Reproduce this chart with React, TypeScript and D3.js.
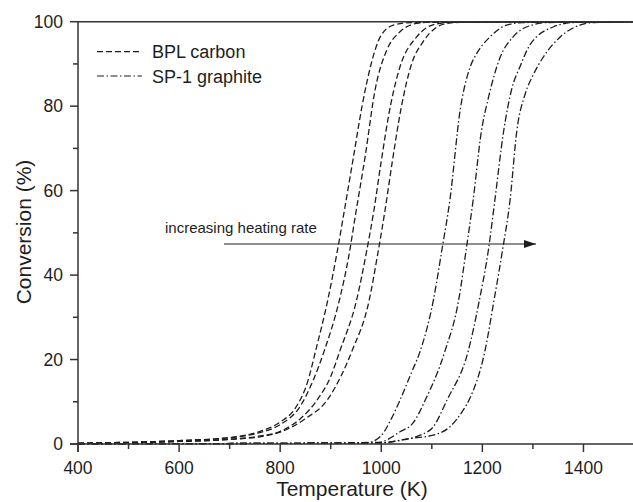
import React from "react";
import * as d3 from "d3";

// [temperature K, conversion %]
const bplRate1: [number, number][] = [
  [400, 0.2], [500, 0.4], [600, 0.8], [700, 1.5], [760, 3], [800, 5.2], [830, 8.5],
  [855, 15], [870, 22], [894, 34], [912, 45], [928, 56], [945, 68], [962, 80],
  [980, 90], [998, 96.4], [1024, 99.2], [1060, 99.8], [1500, 100],
];
const bplRate2: [number, number][] = [
  [400, 0.2], [500, 0.4], [600, 0.8], [700, 1.5], [760, 2.7], [800, 4.6], [840, 9],
  [865, 15], [887, 22], [917, 34], [935, 44], [950, 55], [968, 68], [988, 84],
  [1011, 93.3], [1037, 97.6], [1070, 99.6], [1100, 99.9], [1500, 100],
];
const bplRate3: [number, number][] = [
  [400, 0.1], [500, 0.3], [600, 0.6], [700, 1.1], [760, 1.9], [800, 3], [840, 6],
  [873, 10.4], [900, 16], [918, 22], [951, 34], [970, 45], [985, 55], [1000, 67],
  [1018, 80], [1037, 89.3], [1070, 96.4], [1110, 99.5], [1150, 99.9], [1500, 100],
];
const bplRate4: [number, number][] = [
  [400, 0.1], [500, 0.3], [600, 0.6], [700, 1.1], [760, 1.7], [800, 2.8], [850, 6],
  [893, 10.4], [920, 16], [942, 22], [976, 34], [993, 45], [1007, 55], [1022, 67],
  [1040, 80], [1060, 90], [1083, 95.3], [1130, 99.6], [1170, 99.9], [1500, 100],
];
const spRate1: [number, number][] = [
  [400, 0.05], [900, 0.2], [975, 0.4], [1000, 2], [1020, 6], [1037, 10.4],
  [1060, 17], [1077, 22], [1103, 34], [1120, 46], [1136, 58], [1156, 79],
  [1175, 89], [1189, 92.5], [1215, 96.4], [1248, 99.2], [1280, 99.8], [1500, 100],
];
const spRate2: [number, number][] = [
  [400, 0.05], [900, 0.2], [995, 0.4], [1037, 2.9], [1063, 5], [1087, 10.4],
  [1126, 22], [1153, 34], [1168, 46], [1182, 58], [1198, 74], [1212, 82],
  [1235, 91.5], [1260, 96.3], [1298, 99.2], [1330, 99.8], [1500, 100],
];
const spRate3: [number, number][] = [
  [400, 0.05], [900, 0.2], [1000, 0.3], [1037, 0.9], [1077, 2.1], [1103, 4.1],
  [1130, 10.4], [1172, 22], [1194, 34], [1212, 46], [1225, 58], [1242, 74],
  [1258, 84], [1275, 89.5], [1294, 94.5], [1341, 98.8], [1380, 99.8], [1500, 100],
];
const spRate4: [number, number][] = [
  [400, 0.05], [900, 0.2], [1000, 0.3], [1063, 1.4], [1103, 2.1], [1136, 4.1],
  [1162, 8], [1176, 11], [1205, 22], [1223, 34], [1240, 46], [1255, 58],
  [1268, 74], [1285, 83], [1301, 87.5], [1321, 91.7], [1354, 96.4], [1393, 99.2],
  [1420, 99.8], [1500, 100],
];

const bplSeries = [bplRate1, bplRate2, bplRate3, bplRate4];
const spSeries = [spRate1, spRate2, spRate3, spRate4];

const xTicks = [400, 600, 800, 1000, 1200, 1400];
const xMinor = [500, 700, 900, 1100, 1300, 1500];
const yTicks = [0, 20, 40, 60, 80, 100];
const yMinor = [10, 30, 50, 70, 90];

const legendLabels = ["BPL carbon", "SP-1 graphite"];
const annotation = "increasing heating rate";

const W = 633;
const H = 502;
const FONT = "'Liberation Sans', Arial, sans-serif";
const INK = "#1e1e1e";
const DASH = "6,3";
const DASHDOT = "7,2.5,1.5,2.5";

export default function App() {
  const x = d3.scaleLinear().domain([400, 1500]).range([78, 634]);
  const y = d3.scaleLinear().domain([0, 100]).range([444, 21.7]);
  const line = d3
    .line<[number, number]>()
    .x((d) => x(d[0]))
    .y((d) => y(d[1]))
    .curve(d3.curveMonotoneX);

  const x0 = x(400);
  const y0 = y(0);

  return (
    <svg
      width={W}
      height={H}
      style={{ position: "absolute", left: 0, top: 0, display: "block", background: "#fff" }}
      fontFamily={FONT}
    >
      <defs>
        <marker id="arrow" viewBox="0 0 12 8" refX="12" refY="4" markerWidth="12" markerHeight="8" markerUnits="userSpaceOnUse" orient="auto">
          <path d="M0,0 L12,4 L0,8 Z" fill={INK} />
        </marker>
      </defs>

      {/* curves */}
      <g fill="none" stroke={INK} strokeWidth={1.3}>
        {bplSeries.map((s, i) => (
          <path key={"b" + i} d={line(s) || ""} strokeDasharray={DASH} />
        ))}
        {spSeries.map((s, i) => (
          <path key={"s" + i} d={line(s) || ""} strokeDasharray={DASHDOT} />
        ))}
      </g>

      {/* frame */}
      <g stroke="#333" strokeWidth={1.5} fill="none">
        <line x1={x0} x2={W} y1={y(100)} y2={y(100)} />
        <line x1={x0} x2={x0} y1={y(100)} y2={y0 + 8} />
        <line x1={x0 - 8} x2={W} y1={y0} y2={y0} />
        {xTicks.map((t) => (
          <line key={"xt" + t} x1={x(t)} x2={x(t)} y1={y0} y2={y0 + 8} />
        ))}
        {xMinor.map((t) => (
          <line key={"xm" + t} x1={x(t)} x2={x(t)} y1={y0} y2={y0 + 5} />
        ))}
        {yTicks.map((t) => (
          <line key={"yt" + t} x1={x0 - 8} x2={x0} y1={y(t)} y2={y(t)} />
        ))}
        {yMinor.map((t) => (
          <line key={"ym" + t} x1={x0 - 5} x2={x0} y1={y(t)} y2={y(t)} />
        ))}
      </g>

      {/* tick labels */}
      <g fill={INK} fontSize={17.5}>
        {xTicks.map((t) => (
          <text key={"xl" + t} x={x(t)} y={474} textAnchor="middle">
            {t}
          </text>
        ))}
        {yTicks.map((t) => (
          <text key={"yl" + t} x={63} y={y(t) + 6} textAnchor="end">
            {t}
          </text>
        ))}
      </g>

      {/* axis titles */}
      <text x={352} y={496} textAnchor="middle" fontSize={21} fill={INK}>
        Temperature (K)
      </text>
      <text
        transform="translate(31,232) rotate(-90)"
        textAnchor="middle"
        fontSize={21}
        fill={INK}
      >
        Conversion (%)
      </text>

      {/* legend */}
      <g stroke={INK} strokeWidth={1.2}>
        <line x1={97} x2={142} y1={51.7} y2={51.7} strokeDasharray={DASH} />
        <line x1={97} x2={142} y1={76} y2={76} strokeDasharray={DASHDOT} />
      </g>
      <g fill={INK} fontSize={18}>
        <text x={152} y={58}>{legendLabels[0]}</text>
        <text x={152} y={82.5}>{legendLabels[1]}</text>
      </g>

      {/* annotation */}
      <text x={165} y={233} fontSize={15} fill={INK}>
        {annotation}
      </text>
      <line x1={224} x2={536} y1={244} y2={244} stroke={INK} strokeWidth={1.2} markerEnd="url(#arrow)" />
    </svg>
  );
}
